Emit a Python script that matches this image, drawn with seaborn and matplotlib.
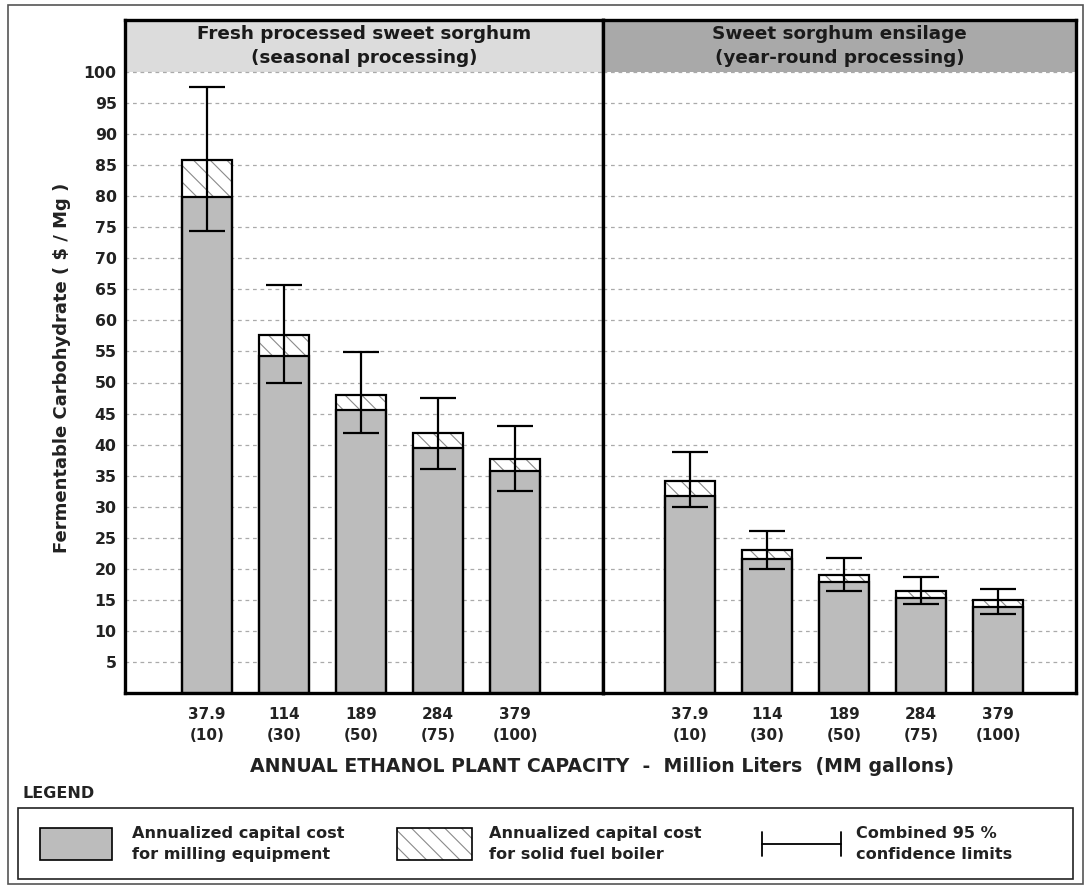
import numpy as np
import pandas as pd
import matplotlib
matplotlib.use("Agg")
import matplotlib.pyplot as plt
import seaborn as sns
from matplotlib.patches import Rectangle
from matplotlib.lines import Line2D

# ---------------- data ----------------
capacity_labels = ["37.9\n(10)", "114\n(30)", "189\n(50)", "284\n(75)", "379\n(100)"]

fresh_milling = [79.9, 54.3, 45.5, 39.5, 35.8]
fresh_total = [85.8, 57.6, 48.0, 41.8, 37.7]
fresh_ci_low = [74.4, 50.0, 41.8, 36.0, 32.5]
fresh_ci_high = [97.6, 65.7, 54.9, 47.5, 43.0]

ens_milling = [31.7, 21.5, 17.9, 15.3, 13.8]
ens_total = [34.2, 23.0, 19.0, 16.4, 14.9]
ens_ci_low = [29.9, 20.0, 16.4, 14.4, 12.8]
ens_ci_high = [38.8, 26.1, 21.7, 18.7, 16.8]

panel_titles = ["Fresh processed sweet sorghum\n(seasonal processing)",
                "Sweet sorghum ensilage\n(year-round processing)"]
y_ticks = list(range(5, 101, 5))

# ---------------- style ----------------
sns.set_theme(style="white")
plt.rcParams["font.family"] = ["DejaVu Sans"]
plt.rcParams["font.weight"] = "bold"
plt.rcParams["hatch.linewidth"] = 0.8

W, H = 1089, 890
fig = plt.figure(figsize=(W / 100, H / 100), dpi=100)
fig.patch.set_facecolor("white")

def fx(px):
    return px / W

def fy(py):
    return 1 - py / H

BAR_GRAY = "#bcbcbc"
HEAD_COLORS = ["#dcdcdc", "#a9a9a9"]
HATCH = "\\\\"
TXT = "#222222"
YTOP = (693 - 20) / 6.21

panels = [
    (125, 603, -1.06, 5.14, fresh_milling, fresh_total, fresh_ci_low, fresh_ci_high),
    (603, 1076, -1.13, 5.01, ens_milling, ens_total, ens_ci_low, ens_ci_high),
]

for i, (x0, x1, xl, xr, mill, tot, lo, hi) in enumerate(panels):
    ax = fig.add_axes([fx(x0), fy(693), fx(x1 - x0), (693 - 20) / H])
    df = pd.DataFrame({"capacity": capacity_labels, "milling": mill, "total": tot,
                       "low": lo, "high": hi})
    ax.axhspan(100, YTOP, color=HEAD_COLORS[i], zorder=0, lw=0)
    for t in y_ticks:
        ax.axhline(t, color="#aaaaaa", lw=0.9, ls=(0, (3, 3)), zorder=0.5)
    # hatched total (solid fuel boiler share on top)
    sns.barplot(data=df, x="capacity", y="total", order=capacity_labels, ax=ax,
                color="white", saturation=1, width=0.65, errorbar=None,
                hatch=HATCH, edgecolor="#8a8a8a", linewidth=0, zorder=2)
    # milling (gray)
    sns.barplot(data=df, x="capacity", y="milling", order=capacity_labels, ax=ax,
                color=BAR_GRAY, saturation=1, width=0.65, errorbar=None,
                edgecolor="black", linewidth=1.6, zorder=3)
    # outline of total
    sns.barplot(data=df, x="capacity", y="total", order=capacity_labels, ax=ax,
                color="white", saturation=1, width=0.65, errorbar=None,
                fill=False, zorder=4)
    for p in ax.containers[2]:
        p.set_fill(False)
        p.set_edgecolor("black")
        p.set_linewidth(1.6)
    xpos = np.arange(len(capacity_labels))
    centre = (df["low"] + df["high"]) / 2
    ax.errorbar(xpos, centre, yerr=[centre - df["low"], df["high"] - centre],
                fmt="none", ecolor="black", elinewidth=1.6, capsize=13,
                capthick=1.6, zorder=5)
    ax.set_xlim(xl, xr)
    ax.set_ylim(0, YTOP)
    ax.set_xlabel("")
    ax.set_ylabel("")
    ax.set_yticks(y_ticks)
    ax.tick_params(axis="both", length=0)
    ax.tick_params(axis="x", pad=10)
    ax.tick_params(axis="y", pad=6)
    ax.set_xticks(xpos)
    ax.set_xticklabels(capacity_labels, fontsize=11, fontweight="bold",
                       color=TXT, linespacing=1.5)
    if i == 0:
        ax.set_yticklabels([str(t) for t in y_ticks], fontsize=11.3,
                           fontweight="bold", color=TXT)
    else:
        ax.set_yticklabels([])
    for s in ax.spines.values():
        s.set_visible(True)
        s.set_color("black")
        s.set_linewidth(2.4)
    ax.text(0.5, 104.2 / YTOP, panel_titles[i], transform=ax.transAxes,
            ha="center", va="center", fontsize=13.2, fontweight="bold",
            color="#1a1a1a", linespacing=1.45)

# axis labels
fig.text(fx(62), fy(368), "Fermentable Carbohydrate ( $ / Mg )", rotation=90,
         ha="center", va="center", fontsize=13, fontweight="bold", color=TXT)
fig.text(fx(602), fy(767),
         "ANNUAL ETHANOL PLANT CAPACITY  -  Million Liters  (MM gallons)",
         ha="center", va="center", fontsize=13.6, fontweight="bold", color=TXT)

# outer border
fig.add_artist(Rectangle((fx(8), fy(884)), fx(1083 - 8), (884 - 5) / H,
                         transform=fig.transFigure, fill=False,
                         edgecolor="#555555", lw=1.2))

# legend
fig.text(fx(22), fy(794), "LEGEND", ha="left", va="center", fontsize=11.5,
         fontweight="bold", color=TXT)
fig.add_artist(Rectangle((fx(18), fy(879)), fx(1073 - 18), (879 - 808) / H,
                         transform=fig.transFigure, fill=False,
                         edgecolor=TXT, lw=1.2))
fig.add_artist(Rectangle((fx(40), fy(860)), fx(72), 32 / H,
                         transform=fig.transFigure, facecolor=BAR_GRAY,
                         edgecolor="black", lw=1.2))
fig.add_artist(Rectangle((fx(397), fy(860)), fx(75), 32 / H,
                         transform=fig.transFigure, facecolor="white",
                         edgecolor="#8a8a8a", hatch=HATCH, lw=0))
fig.add_artist(Rectangle((fx(397), fy(860)), fx(75), 32 / H,
                         transform=fig.transFigure, fill=False,
                         edgecolor="black", lw=1.2))
fig.add_artist(Line2D([fx(762), fx(841)], [fy(844), fy(844)],
                      transform=fig.transFigure, color="black", lw=1.3))
for xx in (762, 841):
    fig.add_artist(Line2D([fx(xx), fx(xx)], [fy(832), fy(856)],
                          transform=fig.transFigure, color="black", lw=1.3))

for xx, txt in [(132, "Annualized capital cost\nfor milling equipment"),
                (489, "Annualized capital cost\nfor solid fuel boiler"),
                (856, "Combined 95 %\nconfidence limits")]:
    fig.text(fx(xx), fy(844), txt, ha="left", va="center", fontsize=11.6,
             fontweight="bold", color=TXT, linespacing=1.45)

fig.savefig("out.png", dpi=100, facecolor="white")
